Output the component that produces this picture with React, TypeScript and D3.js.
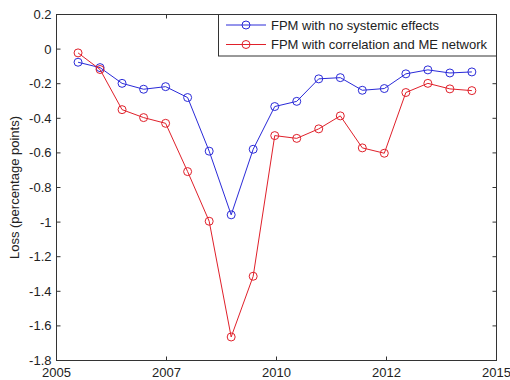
import React from "react";
import * as d3 from "d3";

const years = [2005.49, 2005.99, 2006.49, 2006.98, 2007.48, 2007.98, 2008.47, 2008.97, 2009.47, 2009.96,
  2010.46, 2010.96, 2011.45, 2011.95, 2012.45, 2012.94, 2013.44, 2013.94, 2014.44];
const noSystemic = [-0.076, -0.107, -0.198, -0.232, -0.217, -0.28, -0.59, -0.958, -0.579, -0.332,
  -0.302, -0.172, -0.165, -0.238, -0.228, -0.143, -0.12, -0.138, -0.132];
const correlationME = [-0.022, -0.118, -0.35, -0.396, -0.429, -0.708, -0.995, -1.664, -1.313, -0.5,
  -0.516, -0.461, -0.386, -0.571, -0.602, -0.251, -0.198, -0.23, -0.24];
const seriesNames = ["FPM with no systemic effects", "FPM with correlation and ME network"];
const xTickValues = [2005, 2007.5, 2010, 2012.5, 2015];
const xTickLabels = ["2005", "2007", "2010", "2012", "2015"];
const yTickValues = [0.2, 0, -0.2, -0.4, -0.6, -0.8, -1, -1.2, -1.4, -1.6, -1.8];
const yTickLabels = ["0.2", "0", "-0.2", "-0.4", "-0.6", "-0.8", "-1", "-1.2", "-1.4", "-1.6", "-1.8"];

const colors = ["#2a2ad8", "#e0202a"];

export default function App() {
  const W = 510, H = 380;
  const left = 56.5, right = 496.5, top = 14.5, bottom = 360.5;
  const x = d3.scaleLinear().domain([2005, 2015]).range([left, right]);
  const y = d3.scaleLinear().domain([-1.8, 0.2]).range([bottom, top]);
  const line = d3.line<number>().x((_, i) => x(years[i])).y(d => y(d));
  const series = [noSystemic, correlationME];
  const font = "Arial, 'Liberation Sans', sans-serif";
  const tick = 4;
  return (
    <svg width={W} height={H} style={{ position: "absolute", left: 0, top: 0, background: "#fff" }} fontFamily={font}>
      <rect x={0} y={0} width={W} height={H} fill="#fff" />
      {series.map((s, k) => (
        <g key={k}>
          <path d={line(s) || ""} fill="none" stroke={colors[k]} strokeWidth={1} />
          {s.map((v, i) => (
            <circle key={i} cx={x(years[i])} cy={y(v)} r={4} fill="none" stroke={colors[k]} strokeWidth={1} />
          ))}
        </g>
      ))}
      <rect x={left} y={top} width={right - left} height={bottom - top} fill="none" stroke="#333" strokeWidth={1} />
      {xTickValues.map((t, i) => (
        <g key={i}>
          <line x1={x(t)} x2={x(t)} y1={bottom} y2={bottom - tick} stroke="#333" />
          <line x1={x(t)} x2={x(t)} y1={top} y2={top + tick} stroke="#333" />
          <text x={x(t)} y={bottom + 16} fontSize={13} textAnchor="middle" fill="#222">{xTickLabels[i]}</text>
        </g>
      ))}
      {yTickValues.map((t, i) => (
        <g key={i}>
          <line x1={left} x2={left + tick} y1={y(t)} y2={y(t)} stroke="#333" />
          <line x1={right} x2={right - tick} y1={y(t)} y2={y(t)} stroke="#333" />
          <text x={left - 5} y={y(t) + 4.5} fontSize={13} textAnchor="end" fill="#222">{yTickLabels[i]}</text>
        </g>
      ))}
      <text transform={`translate(19,${(top + bottom) / 2}) rotate(-90)`} fontSize={13} textAnchor="middle" fill="#222">
        Loss (percentage points)
      </text>
      <g>
        <rect x={218.5} y={top} width={right - 218.5} height={56 - top} fill="#fff" stroke="#333" strokeWidth={1} />
        {seriesNames.map((n, k) => {
          const ly = k === 0 ? 25 : 44.5;
          return (
            <g key={k}>
              <line x1={226} x2={266} y1={ly} y2={ly} stroke={colors[k]} />
              <circle cx={246} cy={ly} r={4} fill="none" stroke={colors[k]} />
              <text x={271} y={ly + 4.5} fontSize={13} fill="#222">{n}</text>
            </g>
          );
        })}
      </g>
    </svg>
  );
}
